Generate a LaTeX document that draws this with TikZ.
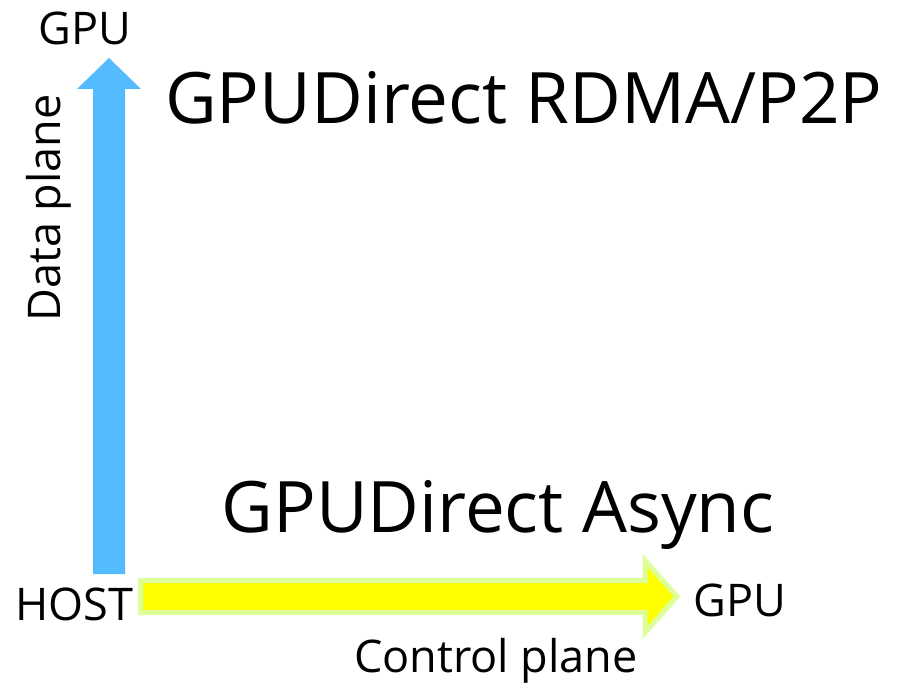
\documentclass[tikz,border=0pt]{standalone}
\usepackage{fontspec}
\setmainfont{Open Sans}
\definecolor{dataBlue}{RGB}{85,187,255}
\definecolor{ctlYellow}{RGB}{255,255,0}
\definecolor{ctlEdge}{RGB}{221,255,153}
\tikzset{
  lbl/.style={inner sep=0pt, font=\fontsize{45}{50}\selectfont},
  ttl/.style={inner sep=0pt, font=\fontsize{71}{78}\selectfont},
}
\begin{document}
\begin{tikzpicture}[x=1pt,y=-1pt]
\useasboundingbox (0,0) rectangle (907,692);
% data plane arrow
\fill[dataBlue] (93,574) -- (93,89) -- (77,89) -- (109,58) -- (141,89) -- (125,89) -- (125,574) -- cycle;
% control plane arrow
\draw[ctlEdge, line width=5pt, fill=ctlYellow, line join=miter] (140.5,580.5) -- (645,580.5) -- (645,560.5) -- (677,596.5) -- (645,632.5) -- (645,612.5) -- (140.5,612.5) -- cycle;
\node[lbl] (gputop) at (85,28) {GPU};
\node[lbl, rotate=90] (data) at (49,208) {Data plane};
\node[ttl] (rdma) at (524,98) {GPUDirect RDMA/P2P};
\node[ttl] (async) at (498,515) {GPUDirect Async};
\node[lbl] (host) at (74,604) {HOST};
\node[lbl] (gpuright) at (740,600) {GPU};
\node[lbl] (ctl) at (496,661) {Control plane};
\end{tikzpicture}
\end{document}
